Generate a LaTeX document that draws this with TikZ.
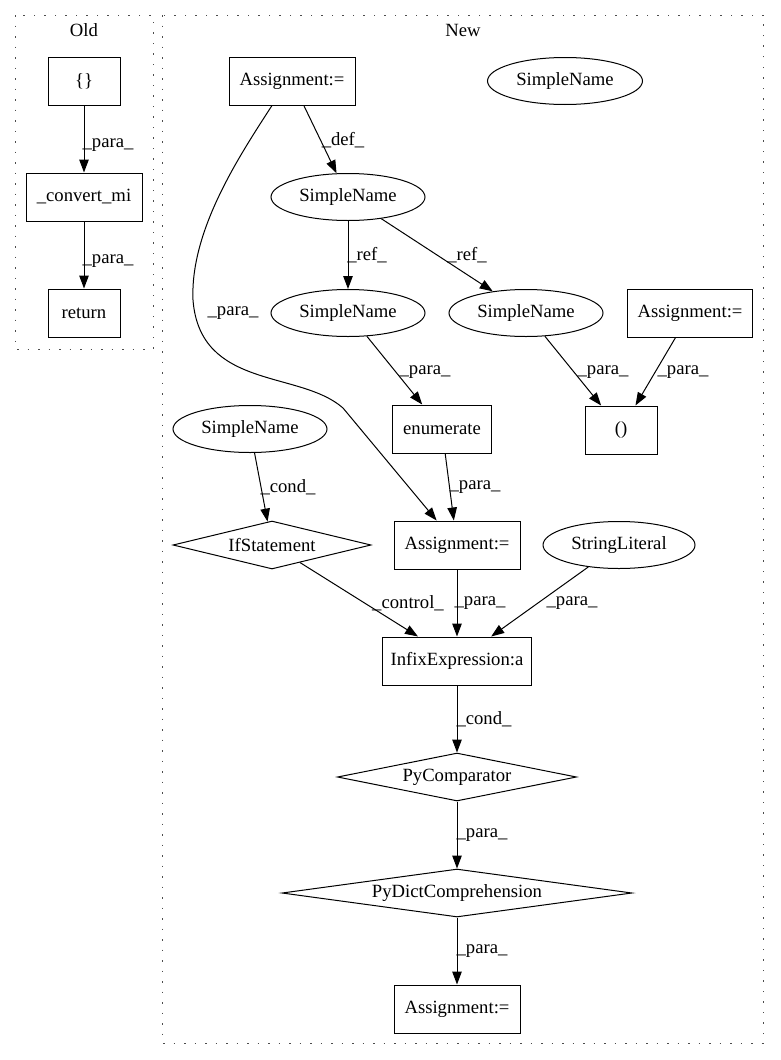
\documentclass[tikz,border=0pt]{standalone}
\usepackage{fontspec}
\setmainfont{Liberation Serif}
\usetikzlibrary{arrows.meta,shapes.geometric,calc}
\begin{document}
\begin{tikzpicture}[x=1pt,y=-1pt,
  every node/.style={font=\fontsize{18.67pt}{21pt}\selectfont},
  rbox/.style={draw, rectangle, minimum height=48pt, inner sep=0pt, line width=1pt},
  ell/.style={draw, ellipse, minimum width=154pt, minimum height=47pt, inner sep=0pt, line width=1pt},
  dia/.style={draw, diamond, aspect=7, minimum height=48pt, inner sep=0pt, line width=1pt},
  arr/.style={-{Triangle[length=13pt,width=9.5pt]}, line width=1pt},
  lab/.style={inner sep=0pt},
  clus/.style={draw=black!70, line width=1pt, dash pattern=on 1.5pt off 9pt}]
\useasboundingbox (0,0) rectangle (780,1060);

% clusters
\draw[clus] (15,15) rectangle (153,349);
\draw[clus] (162,15) rectangle (763,1043);
\node (told) at (84,30) {Old};
\node (tnew) at (463,30) {New};

% Old
\node[rbox, minimum width=72pt] (o1) at (84,81) {\{\}};
\node[rbox, minimum width=116pt] (o2) at (84,197) {\_convert\_mi};
\node[rbox, minimum width=72pt] (o3) at (84,313) {return};

% New
\node[rbox, minimum width=126pt] (a1) at (292,81) {Assignment:=};
\node[ell, minimum width=155pt] (sn0) at (565,81) {SimpleName};
\node[ell] (sn1) at (348,197) {SimpleName};
\node[ell] (sn2) at (348,313) {SimpleName};
\node[ell] (sn3) at (526,313) {SimpleName};
\node[rbox, minimum width=125pt] (a2) at (690,313) {Assignment:=};
\node[rbox, minimum width=72pt] (par) at (621,430) {()};
\node[rbox, minimum width=99pt] (en) at (442,429) {enumerate};
\node[ell] (sn4) at (250,429) {SimpleName};
\node[dia, minimum width=198pt] (if) at (272,545) {IfStatement};
\node[rbox, minimum width=126pt] (a3) at (457,545) {Assignment:=};
\node[ell, minimum width=152pt] (sl) at (619,545) {StringLiteral};
\node[rbox, minimum width=149pt] (inf) at (457,661) {InfixExpression:a};
\node[dia, minimum width=239pt] (pc) at (457,777) {PyComparator};
\node[dia, minimum width=350pt] (pd) at (457,893) {PyDictComprehension};
\node[rbox, minimum width=126pt] (a4) at (457,1009) {Assignment:=};

% edges Old
\draw[arr] (o1) -- (o2);
\draw[arr] (o2) -- (o3);
\node[lab] at (108,145) {\_para\_};
\node[lab] at (108,261) {\_para\_};

% edges New
\draw[arr] (a1) -- (sn1);
\node[lab] at (343,140) {\_def\_};
\draw[arr] (sn1) -- (sn2);
\node[lab] at (367,255) {\_ref\_};
\draw[arr] (sn1) -- (sn3);
\node[lab] at (467,255) {\_ref\_};
\draw[arr] ($(a1.south)+(-20,0)$) .. controls (240,155) and (190,230) .. (193,300)
   .. controls (200,390) and (300,370) .. (343,408) -- (a3);
\node[lab] at (233,313) {\_para\_};
\draw[arr] (sn2) -- (en);
\node[lab] at (425,372) {\_para\_};
\draw[arr] (sn3) -- (par);
\node[lab] at (603,372) {\_para\_};
\draw[arr] (a2) -- (par);
\node[lab] at (683,372) {\_para\_};
\draw[arr] (sn4) -- (if);
\node[lab] at (288,487) {\_cond\_};
\draw[arr] (en) -- (a3);
\node[lab] at (475,487) {\_para\_};
\draw[arr] (if) -- (inf);
\node[lab] at (408,603) {\_control\_};
\draw[arr] (a3) -- (inf);
\node[lab] at (480,603) {\_para\_};
\draw[arr] (sl) -- (inf);
\node[lab] at (572,603) {\_para\_};
\draw[arr] (inf) -- (pc);
\node[lab] at (484,719) {\_cond\_};
\draw[arr] (pc) -- (pd);
\node[lab] at (482,835) {\_para\_};
\draw[arr] (pd) -- (a4);
\node[lab] at (482,951) {\_para\_};
\end{tikzpicture}
\end{document}
